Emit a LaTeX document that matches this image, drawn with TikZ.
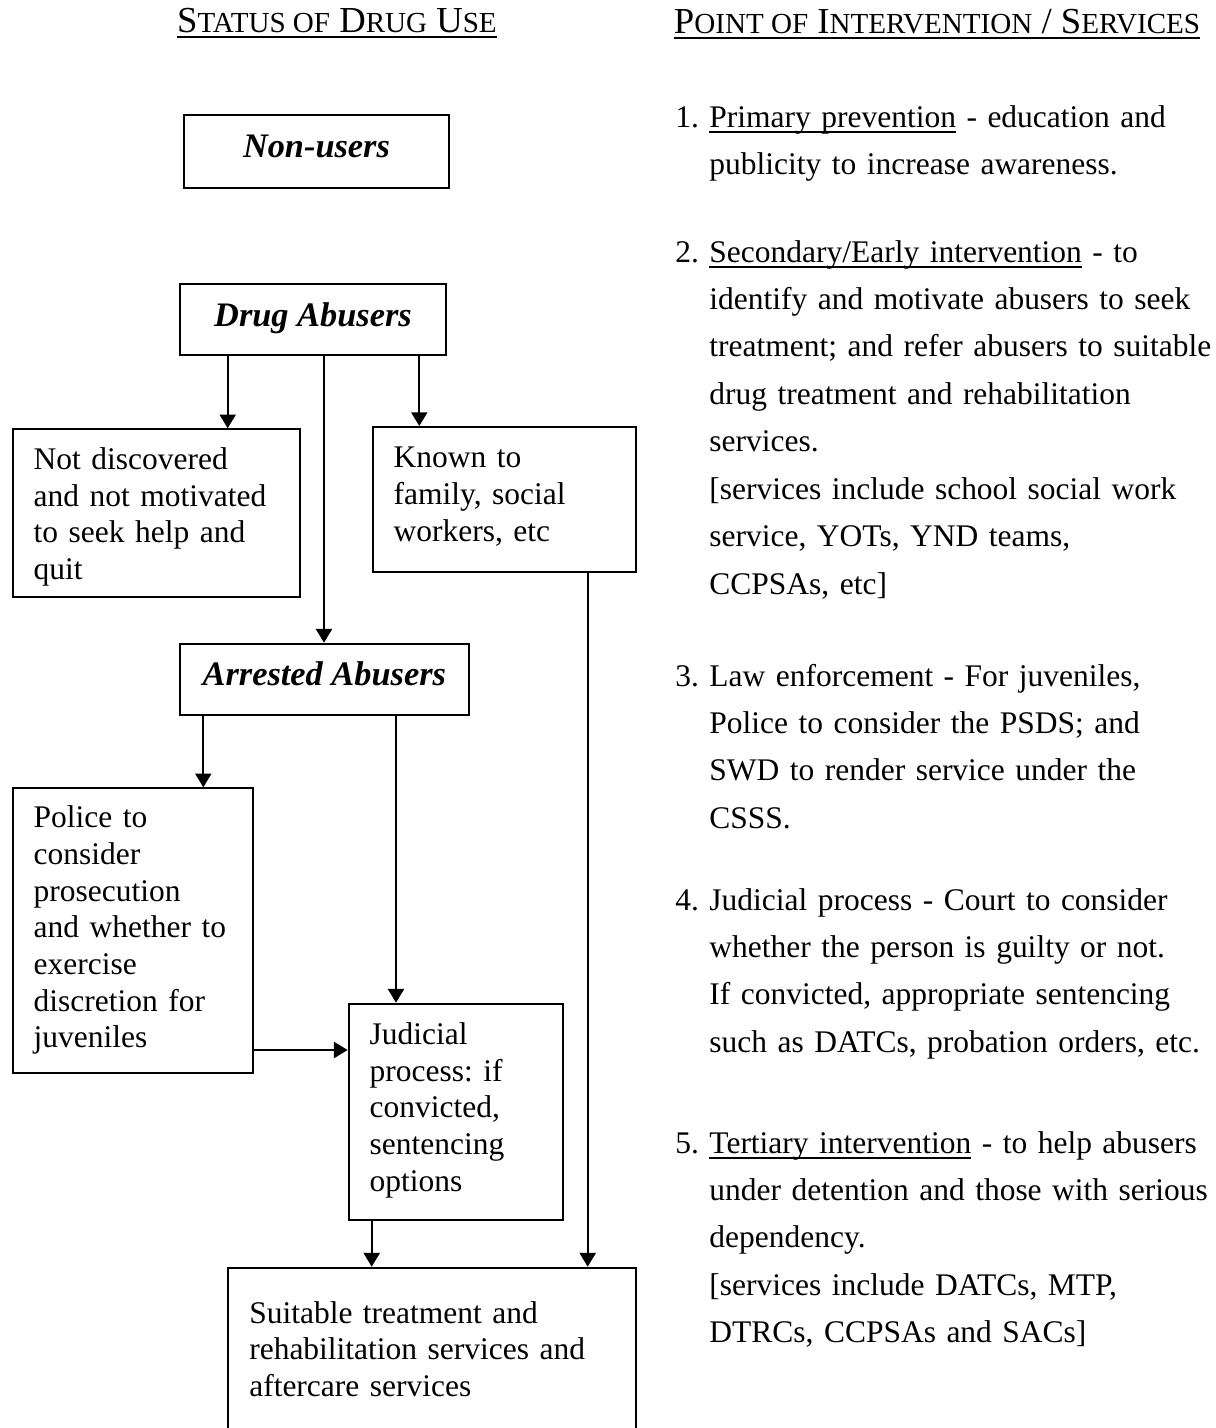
\documentclass[tikz,border=0pt]{standalone}
\usepackage{fontspec}
\setmainfont{Liberation Serif}
\usetikzlibrary{arrows.meta,calc}
\frenchspacing
\newlength{\pxu}\setlength{\pxu}{0.4367pt}
% small capitals by hand, the font has none
\newcommand{\fsc}[1]{{\fontsize{12.7}{14}\selectfont #1}}
\newcommand{\undl}[1]{\setbox0\hbox{#1}\rlap{\rule[-2.8pt]{\wd0}{0.85pt}}#1}
\newcommand{\itemno}[1]{\llap{\makebox[34\pxu][l]{#1}}}

\begin{document}
\begin{tikzpicture}[
  x=0.4367pt, y=-0.4367pt,
  statebox/.style={draw, line width=0.87pt, anchor=north west, inner ysep=0pt,
    font=\fontsize{13.75}{16.03}\selectfont},
  textbox/.style={statebox, align=left, inner xsep=21\pxu},
  headbox/.style={statebox, inner xsep=0pt, font=\fontsize{15}{18}\selectfont\bfseries\itshape},
  hdr/.style={anchor=base west, inner sep=0pt, font=\fontsize{16}{19}\selectfont},
  lbl/.style={anchor=base west, inner sep=0pt, align=left, text width=520\pxu,
    font=\fontsize{13.75}{20.72}\selectfont},
  arr/.style={-{Triangle[width=7pt,length=6pt]}, line width=0.87pt}
]
\useasboundingbox (0,0) rectangle (1216,1428);

% column headings
\node[hdr] (statushd) at (176.7,32) {\undl{S\fsc{TATUS OF} D\fsc{RUG} U\fsc{SE}}};
\node[hdr] (pointhd) at (673.5,33) {\undl{P\fsc{OINT OF} I\fsc{NTERVENTION} / S\fsc{ERVICES}}};

% left: status of drug use
\node[headbox, minimum width=264.4\pxu, text height=42.7\pxu, text depth=30\pxu]
  (nonusers) at (183.3,114) {Non-users};
\node[headbox, minimum width=266\pxu, text height=42.3\pxu, text depth=29\pxu]
  (abusers) at (179,282.7) {Drug Abusers};
\node[textbox, text width=245.6\pxu, text height=40\pxu, text depth=127.7\pxu]
  (hidden) at (11.7,428.3) {Not discovered\\and not motivated\\to seek help and\\quit};
\node[textbox, text width=221.3\pxu, text height=40.7\pxu, text depth=104\pxu]
  (known) at (371.7,426) {Known to\\family, social\\workers, etc};
\node[headbox, minimum width=288.7\pxu, text height=41.3\pxu, text depth=30.3\pxu]
  (arrested) at (179,642.7) {Arrested Abusers};
\node[textbox, text width=198\pxu, text height=39.4\pxu, text depth=245\pxu]
  (police) at (11.7,787.3) {Police to\\consider\\prosecution\\and whether to\\exercise\\discretion for\\juveniles};
\node[textbox, text width=172.6\pxu, text height=40.6\pxu, text depth=175.7\pxu]
  (judicial) at (347.7,1002.7) {Judicial\\process: if\\convicted,\\sentencing\\options};
% this box runs on past the lower edge of the page
\node[textbox, text width=365.7\pxu, text height=55.3\pxu, text depth=125\pxu]
  (suitable) at (227.3,1266.7) {Suitable treatment and\\rehabilitation services and\\aftercare services};

\draw[arr] (abusers.south west) ++(48.7,0) coordinate (a1) -- (a1 |- hidden.north);
\draw[arr] (abusers.south west) ++(145,0) coordinate (a2) -- (a2 |- arrested.north);
\draw[arr] (abusers.south west) ++(240.3,0) coordinate (a3) -- (a3 |- known.north);
\draw[arr] (arrested.south west) ++(24.3,0) coordinate (b1) -- (b1 |- police.north);
\draw[arr] (arrested.south west) ++(217,0) coordinate (b2) -- (b2 |- judicial.north);
\coordinate (j1) at ($(judicial.north west)+(0,47.3)$);
\draw[arr] (j1 -| police.east) -- (j1);
\draw[arr] (judicial.south west) ++(24,0) coordinate (c1) -- (c1 |- suitable.north);
\draw[arr] (known.south west) ++(216,0) coordinate (c2) -- (c2 |- suitable.north);

% right: point of intervention / services
\node[lbl] (item1) at (709,127) {\itemno{1.}\undl{Primary prevention} - education and\\
  publicity to increase awareness.};
\node[lbl] (item2) at (709,262) {\itemno{2.}\undl{Secondary/Early intervention} - to\\
  identify and motivate abusers to seek\\
  treatment; and refer abusers to suitable\\
  drug treatment and rehabilitation\\
  services.\\
  {[}services include school social work\\
  service, YOTs, YND teams,\\
  CCPSAs, etc]};
\node[lbl] (item3) at (709,686) {\itemno{3.}Law enforcement - For juveniles,\\
  Police to consider the PSDS; and\\
  SWD to render service under the\\
  CSSS.};
\node[lbl] (item4) at (709,910) {\itemno{4.}Judicial process - Court to consider\\
  whether the person is guilty or not.\\
  If convicted, appropriate sentencing\\
  such as DATCs, probation orders, etc.};
\node[lbl] (item5) at (709,1153) {\itemno{5.}\undl{Tertiary intervention} - to help abusers\\
  under detention and those with serious\\
  dependency.\\
  {[}services include DATCs, MTP,\\
  DTRCs, CCPSAs and SACs]};
\end{tikzpicture}
\end{document}
